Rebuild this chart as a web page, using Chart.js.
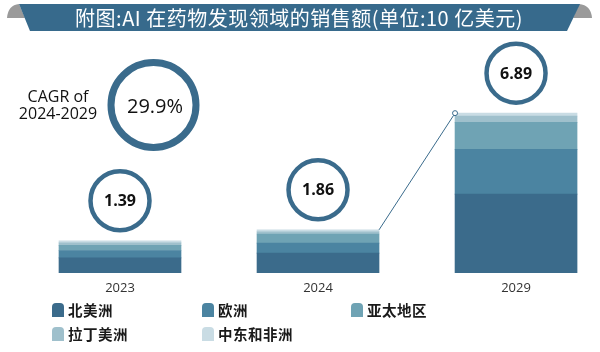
<!DOCTYPE html>
<html>
<head>
<meta charset="utf-8">
<script src="https://cdn.jsdelivr.net/npm/chart.js@4"></script>
<style>
  html, body { margin: 0; padding: 0; background: #fff; }
  #chart { display: block; }
</style>
</head>
<body>
<canvas id="chart" width="600" height="352"></canvas>
<script>
// Sales of AI in drug discovery, by region (USD bn)
const years = ['2023', '2024', '2029'];
const totals = [1.39, 1.86, 6.89];
const northAmerica = [0.65, 0.86, 3.40];
const europe = [0.32, 0.43, 1.93];
const asiaPacific = [0.22, 0.39, 1.16];
const latinAmerica = [0.11, 0.09, 0.27];
const middleEastAfrica = [0.09, 0.09, 0.13];
const regionNames = ['北美洲', '欧洲', '亚太地区', '拉丁美洲', '中东和非洲'];
const regionColors = ['#3b6b8b', '#4b84a1', '#6fa3b4', '#9fc0cc', '#c9dce4'];
const titleText = '附图:AI 在药物发现领域的销售额(单位:10 亿美元)';
const cagrLabel = ['CAGR of', '2024-2029'];
const cagrValue = '29.9%';

const ringColor = '#3a6b8c';
const regionSeries = [northAmerica, europe, asiaPacific, latinAmerica, middleEastAfrica];

// Banner, CAGR badge, value bubbles, connector and legend
const overlayPlugin = {
    id: 'overlay',
    afterDraw(chart) {
        const ctx = chart.ctx;
        ctx.save();

        // title banner
        ctx.fillStyle = '#9a9a9a';
        ctx.beginPath();
        ctx.moveTo(7, 18);
        ctx.quadraticCurveTo(8, 5, 19, 4);
        ctx.lineTo(25, 18);
        ctx.closePath();
        ctx.fill();
        ctx.beginPath();
        ctx.moveTo(579, 4);
        ctx.quadraticCurveTo(591, 5, 592, 18);
        ctx.lineTo(573, 18);
        ctx.closePath();
        ctx.fill();
        ctx.fillStyle = '#376a8c';
        ctx.beginPath();
        ctx.moveTo(19, 4);
        ctx.lineTo(580, 4);
        ctx.lineTo(567, 31);
        ctx.lineTo(30, 31);
        ctx.closePath();
        ctx.fill();
        ctx.fillStyle = '#ffffff';
        ctx.font = '20px "Noto Sans CJK SC"';
        ctx.textAlign = 'center';
        ctx.textBaseline = 'middle';
        ctx.letterSpacing = '0.5px';
        ctx.fillText(titleText, 299, 18);
        ctx.letterSpacing = '0px';

        // CAGR badge
        ctx.strokeStyle = ringColor;
        ctx.lineWidth = 7;
        ctx.beginPath();
        ctx.arc(153.5, 105, 42.5, 0, Math.PI * 2);
        ctx.stroke();
        ctx.fillStyle = '#111';
        ctx.font = '20px "Open Sans"';
        ctx.fillText(cagrValue, 155, 107);
        ctx.font = '16px "Open Sans"';
        ctx.fillText(cagrLabel[0], 58, 97);
        ctx.fillText(cagrLabel[1], 58, 114);

        // value bubbles above each stack
        const topMeta = chart.getDatasetMeta(chart.data.datasets.length - 1);
        topMeta.data.forEach((bar, i) => {
            const cx = bar.x;
            const cy = bar.y - 40;
            ctx.strokeStyle = ringColor;
            ctx.lineWidth = 4.5;
            ctx.fillStyle = '#fff';
            ctx.beginPath();
            ctx.arc(cx, cy, 29.5, 0, Math.PI * 2);
            ctx.fill();
            ctx.stroke();
            ctx.fillStyle = '#111';
            ctx.font = 'bold 16px "Open Sans"';
            ctx.fillText(totals[i].toFixed(2), cx, cy + 1);
        });

        // connector from 2024 stack to 2029 stack
        const a = topMeta.data[1];
        const b = topMeta.data[2];
        const x1 = a.x + a.width / 2, y1 = a.y;
        const x2 = b.x - b.width / 2, y2 = b.y;
        ctx.strokeStyle = ringColor;
        ctx.lineWidth = 1;
        ctx.beginPath();
        ctx.moveTo(x1, y1);
        ctx.lineTo(x2, y2);
        ctx.stroke();
        ctx.fillStyle = '#fff';
        ctx.beginPath();
        ctx.arc(x2, y2, 2.5, 0, Math.PI * 2);
        ctx.fill();
        ctx.stroke();

        // legend, three columns by two rows
        const colX = [52, 202, 351];
        const rowY = [303, 327];
        ctx.textAlign = 'left';
        ctx.font = 'bold 14.5px "Noto Sans CJK SC"';
        regionNames.forEach((name, i) => {
            const x = colX[i % 3];
            const y = rowY[Math.floor(i / 3)];
            ctx.fillStyle = regionColors[i];
            ctx.beginPath();
            ctx.roundRect(x, y, 12, 14, [4, 4, 0, 0]);
            ctx.fill();
            ctx.fillStyle = '#1a1a1a';
            ctx.letterSpacing = '0.5px';
            ctx.fillText(name, x + 16, y + 7.5);
            ctx.letterSpacing = '0px';
        });

        ctx.restore();
    }
};

const datasets = regionNames.map((name, r) => ({
    label: name,
    data: regionSeries[r].map((v, i) => ({ x: i, y: v })),
    backgroundColor: regionColors[r],
    borderWidth: 0,
    barThickness: 122
}));

new Chart(document.getElementById('chart'), {
    type: 'bar',
    data: { datasets: datasets },
    options: {
        responsive: false,
        animation: false,
        devicePixelRatio: 1,
        layout: { padding: { top: 41, bottom: 49, left: 0, right: 0 } },
        plugins: {
            legend: { display: false },
            tooltip: { enabled: false }
        },
        scales: {
            x: {
                type: 'linear',
                stacked: true,
                offset: false,
                min: -0.606,
                max: 2.424,
                grid: { display: false, drawTicks: false },
                border: { display: false },
                afterBuildTicks: scale => {
                    scale.ticks = years.map((_, i) => ({ value: i }));
                },
                afterFit: scale => { scale.height = 30; },
                ticks: {
                    padding: 7,
                    color: '#333',
                    font: { family: 'Open Sans', size: 13 },
                    callback: value => years[value] ?? ''
                }
            },
            y: {
                stacked: true,
                display: false,
                min: 0,
                max: 10
            }
        }
    },
    plugins: [overlayPlugin]
});
</script>
</body>
</html>
